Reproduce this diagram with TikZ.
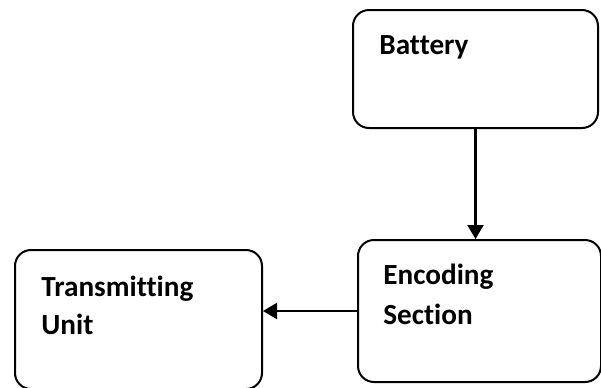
\documentclass[tikz,border=0pt]{standalone}
\usepackage{fontspec}
\setmainfont{Carlito}[Ligatures=NoCommon]
\usetikzlibrary{calc}
\usetikzlibrary{arrows.meta}

\begin{document}
\begin{tikzpicture}[x=0.5pt, y=-0.5pt,
        bloc/.style={draw, line width=1pt, rounded corners=8pt, inner sep=0pt},
        texte/.style={anchor=base west, inner sep=0pt, font=\fontsize{14.6}{17}\selectfont\bfseries},
        fleche/.style={line width=1.1pt, -{Triangle[width=8pt,length=7pt]}}]
    \useasboundingbox (0,0) rectangle (601,387);

    % les trois blocs
    \node[bloc, minimum width=122.5pt, minimum height=59pt] (batterie) at (475.5,69) {};
    \node[bloc, minimum width=121.5pt, minimum height=71pt] (codage) at (479.5,311) {};
    \node[bloc, minimum width=123.5pt, minimum height=69.5pt] (emission) at (138.5,319.5) {};

    % les textes
    \node[texte] (tBat) at ($(batterie.north west)+(27,45)$) {Battery};
    \node[texte] (tCod1) at ($(codage.north west)+(26,45)$) {Encoding};
    \node[texte] (tCod2) at ($(tCod1.base west)+(0,40)$) {Section};
    \node[texte] (tEm1) at ($(emission.north west)+(27,47)$) {Transmitting};
    \node[texte] (tEm2) at ($(tEm1.base west)+(0,38)$) {Unit};

    % les liaisons
    \draw[fleche] (batterie.south) -- (batterie.south |- codage.north);
    \draw[fleche] (codage.west) -- (codage.west -| emission.east);
\end{tikzpicture}
\end{document}
